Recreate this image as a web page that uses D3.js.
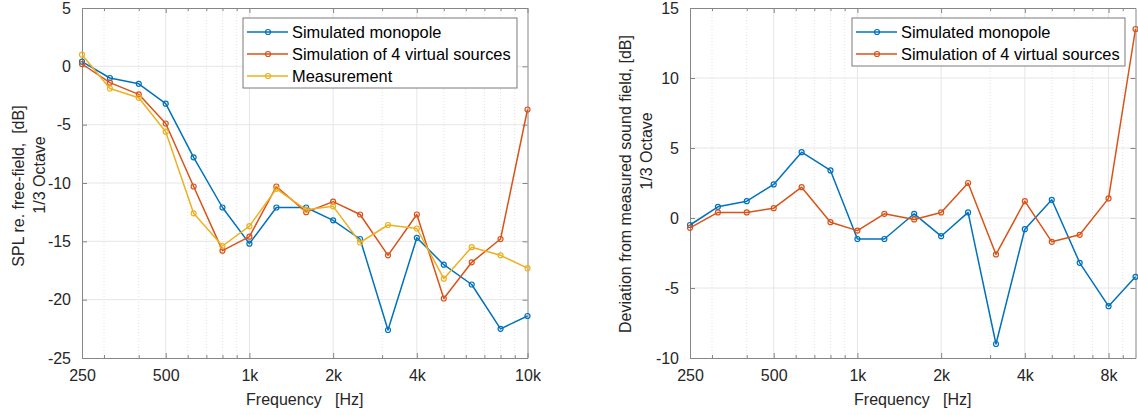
<!DOCTYPE html>
<html>
<head>
<meta charset="utf-8">
<script src="https://cdn.jsdelivr.net/npm/d3@7"></script>
<style>
  html, body { margin: 0; padding: 0; background: #fff; }
  svg { display: block; font-family: "Liberation Sans", Arial, Helvetica, sans-serif; }
  .tick text { fill: #262626; font-size: 16px; }
</style>
</head>
<body>
<svg id="chart" width="1138" height="415"></svg>
<script>
// One-third-octave band centre frequencies [Hz]
const freqs = [250, 315, 400, 500, 630, 800, 1000, 1250, 1600, 2000, 2500, 3150, 4000, 5000, 6300, 8000, 10000];

// Left panel: SPL relative to free field [dB]
const splMonopole = [0.4, -1.0, -1.5, -3.2, -7.8, -12.1, -15.2, -12.1, -12.1, -13.2, -14.8, -22.6, -14.7, -17.0, -18.7, -22.5, -21.4];
const splVirtual4 = [0.2, -1.4, -2.4, -4.9, -10.3, -15.8, -14.6, -10.3, -12.5, -11.6, -12.7, -16.2, -12.7, -19.9, -16.8, -14.8, -3.7];
const splMeasured = [1.0, -1.9, -2.7, -5.6, -12.6, -15.4, -13.7, -10.5, -12.3, -12.0, -15.1, -13.6, -13.9, -18.2, -15.5, -16.2, -17.3];

// Right panel: deviation from measured sound field [dB]
const devMonopole = [-0.5, 0.8, 1.2, 2.4, 4.7, 3.4, -1.5, -1.5, 0.3, -1.3, 0.4, -9.0, -0.8, 1.3, -3.2, -6.3, -4.2];
const devVirtual4 = [-0.7, 0.4, 0.4, 0.7, 2.2, -0.3, -0.9, 0.3, -0.1, 0.4, 2.5, -2.6, 1.2, -1.7, -1.2, 1.4, 13.5];

// Axis ticks
const leftXTicks = [250, 500, 1000, 2000, 4000, 10000];
const leftXLabels = ["250", "500", "1k", "2k", "4k", "10k"];
const rightXTicks = [250, 500, 1000, 2000, 4000, 8000];
const rightXLabels = ["250", "500", "1k", "2k", "4k", "8k"];
const leftMinorX = [300, 400, 600, 700, 800, 900, 3000, 5000, 6000, 7000, 8000, 9000];
const rightMinorX = [300, 400, 600, 700, 800, 900, 3000, 5000, 6000, 7000, 9000];
const leftYTicks = [5, 0, -5, -10, -15, -20, -25];
const rightYTicks = [15, 10, 5, 0, -5, -10];

// Series names
const leftNames = ["Simulated monopole", "Simulation of 4 virtual sources", "Measurement"];
const rightNames = ["Simulated monopole", "Simulation of 4 virtual sources"];

const colors = ["#0072BD", "#D95319", "#EDB120"];
const axisColor = "#868686";
const textColor = "#262626";

const svg = d3.select("#chart");

function panel(opts) {
  const { x0, x1, y0, y1, yDomain, xTicks, xLabels, minorX, yTicks, series, names,
          yLabel1, yLabel1X, yLabel1Y, yLabel2, yLabel2X, yLabel2Y, legend } = opts;

  const x = d3.scaleLog().domain([250, 10000]).range([x0, x1]);
  const y = d3.scaleLinear().domain(yDomain).range([y1, y0]);
  const g = svg.append("g");

  // minor (dotted) grid
  g.append("g").selectAll("line").data(minorX).join("line")
    .attr("x1", d => x(d)).attr("x2", d => x(d))
    .attr("y1", y0).attr("y2", y1)
    .attr("stroke", "#e2e2e2").attr("stroke-width", 1)
    .attr("stroke-dasharray", "1,2");

  // major grid
  g.append("g").selectAll("line").data(xTicks.filter(d => d > 250 && d < 10000)).join("line")
    .attr("x1", d => x(d)).attr("x2", d => x(d))
    .attr("y1", y0).attr("y2", y1)
    .attr("stroke", "#e6e6e6").attr("stroke-width", 1);
  g.append("g").selectAll("line").data(yTicks.filter(d => d > yDomain[0] && d < yDomain[1])).join("line")
    .attr("x1", x0).attr("x2", x1)
    .attr("y1", d => y(d)).attr("y2", d => y(d))
    .attr("stroke", "#e6e6e6").attr("stroke-width", 1);

  // axes (ticks pointing inward)
  const xAxis = d3.axisBottom(x).tickValues(xTicks)
    .tickFormat((d, i) => xLabels[i]).tickSizeInner(-5).tickSizeOuter(0).tickPadding(12);
  const gx = g.append("g").attr("transform", `translate(0,${y1})`).call(xAxis);
  const xTop = d3.axisTop(x).tickValues(xTicks).tickFormat("").tickSizeInner(-5).tickSizeOuter(0);
  const gxt = g.append("g").attr("transform", `translate(0,${y0})`).call(xTop);
  const xMinor = d3.axisBottom(x).tickValues(minorX).tickFormat("").tickSizeInner(-3).tickSizeOuter(0);
  const gxm = g.append("g").attr("transform", `translate(0,${y1})`).call(xMinor);
  const xMinorTop = d3.axisTop(x).tickValues(minorX).tickFormat("").tickSizeInner(-3).tickSizeOuter(0);
  const gxmt = g.append("g").attr("transform", `translate(0,${y0})`).call(xMinorTop);

  const yAxis = d3.axisLeft(y).tickValues(yTicks).tickFormat(d3.format("d"))
    .tickSizeInner(-5).tickSizeOuter(0).tickPadding(11);
  const gy = g.append("g").attr("transform", `translate(${x0},0)`).call(yAxis);
  const yRight = d3.axisRight(y).tickValues(yTicks).tickFormat("").tickSizeInner(-5).tickSizeOuter(0);
  const gyr = g.append("g").attr("transform", `translate(${x1},0)`).call(yRight);

  [gx, gxt, gxm, gxmt, gy, gyr].forEach(a => {
    a.select(".domain").attr("stroke", axisColor).attr("stroke-width", 1);
    a.selectAll(".tick line").attr("stroke", axisColor).attr("stroke-width", 1);
  });
  gy.selectAll(".tick text").text(d => d < 0 ? "-" + Math.abs(d) : d);

  // series
  const line = d3.line().x((d, i) => x(freqs[i])).y(d => y(d));
  series.forEach((vals, k) => {
    const s = g.append("g");
    s.append("path").datum(vals).attr("d", line)
      .attr("fill", "none").attr("stroke", colors[k]).attr("stroke-width", 1.5)
      .attr("stroke-linejoin", "round");
    s.selectAll("circle").data(vals).join("circle")
      .attr("cx", (d, i) => x(freqs[i])).attr("cy", d => y(d))
      .attr("r", 2.5).attr("fill", "none")
      .attr("stroke", colors[k]).attr("stroke-width", 1.2);
  });

  // axis labels
  g.append("text")
    .attr("x", (x0 + x1) / 2).attr("y", 405)
    .attr("text-anchor", "middle").attr("fill", textColor).attr("font-size", 16)
    .attr("xml:space", "preserve")
    .text("Frequency   [Hz]");
  g.append("text")
    .attr("transform", `translate(${yLabel1X},${yLabel1Y}) rotate(-90)`)
    .attr("text-anchor", "middle").attr("fill", textColor).attr("font-size", 16)
    .attr("xml:space", "preserve")
    .text(yLabel1);
  g.append("text")
    .attr("transform", `translate(${yLabel2X},${yLabel2Y}) rotate(-90)`)
    .attr("text-anchor", "middle").attr("fill", textColor).attr("font-size", 16)
    .text(yLabel2);

  // legend
  const lg = g.append("g");
  const rowH = 22;
  lg.append("rect")
    .attr("x", legend.x).attr("y", legend.y)
    .attr("width", legend.w).attr("height", rowH * names.length + 4)
    .attr("fill", "#fff").attr("stroke", "#7a7a7a").attr("stroke-width", 1);
  names.forEach((name, k) => {
    const cy = legend.y + 14 + k * rowH;
    lg.append("line")
      .attr("x1", legend.x + 4).attr("x2", legend.x + 45)
      .attr("y1", cy).attr("y2", cy)
      .attr("stroke", colors[k]).attr("stroke-width", 1.5);
    lg.append("circle")
      .attr("cx", legend.x + 25).attr("cy", cy).attr("r", 2.5)
      .attr("fill", "none").attr("stroke", colors[k]).attr("stroke-width", 1.2);
    lg.append("text")
      .attr("x", legend.x + 49).attr("y", cy).attr("dy", "0.36em")
      .attr("fill", "#000").attr("font-size", 16.4)
      .text(name);
  });
}

panel({
  x0: 82, x1: 527.5, y0: 8, y1: 358, yDomain: [-25, 5],
  xTicks: leftXTicks, xLabels: leftXLabels, minorX: leftMinorX, yTicks: leftYTicks,
  series: [splMonopole, splVirtual4, splMeasured], names: leftNames,
  yLabel1: "SPL re. free-field,  [dB]", yLabel1X: 24, yLabel1Y: 186,
  yLabel2: "1/3 Octave", yLabel2X: 45, yLabel2Y: 175,
  legend: { x: 243, y: 18, w: 274 }
});

panel({
  x0: 690, x1: 1135.5, y0: 8, y1: 358, yDomain: [-10, 15],
  xTicks: rightXTicks, xLabels: rightXLabels, minorX: rightMinorX, yTicks: rightYTicks,
  series: [devMonopole, devVirtual4], names: rightNames,
  yLabel1: "Deviation from measured sound field, [dB]", yLabel1X: 631, yLabel1Y: 184,
  yLabel2: "1/3 Octave", yLabel2X: 652, yLabel2Y: 151,
  legend: { x: 852, y: 18, w: 273 }
});
</script>
</body>
</html>
